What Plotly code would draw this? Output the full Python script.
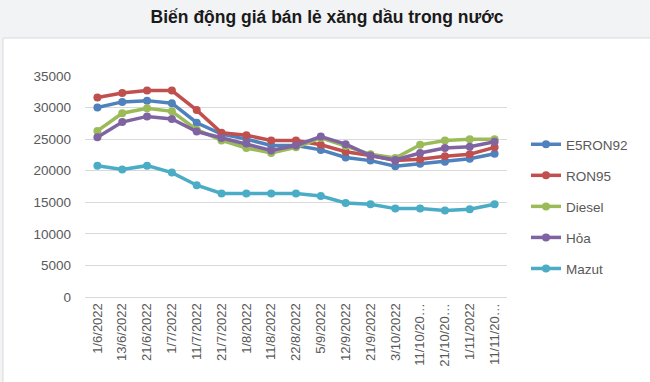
import plotly.graph_objects as go

categories = ["1/6/2022", "13/6/2022", "21/6/2022", "1/7/2022", "11/7/2022", "21/7/2022",
              "1/8/2022", "11/8/2022", "22/8/2022", "5/9/2022", "12/9/2022", "21/9/2022",
              "3/10/2022", "11/10/20…", "21/10/20…", "1/11/2022", "11/11/20…"]

e5ron92 = [30000, 30900, 31100, 30700, 27600, 25800, 25000, 24000, 24000, 23300, 22100, 21600, 20700, 21100, 21400, 21900, 22700]
ron95 = [31600, 32300, 32700, 32700, 29600, 26000, 25600, 24800, 24800, 24100, 23000, 22400, 21600, 21800, 22300, 22600, 23700]
diesel = [26300, 29100, 29900, 29400, 26500, 24800, 23600, 22800, 23700, 25200, 23900, 22600, 22000, 24100, 24800, 25000, 25000]
hoa = [25300, 27700, 28600, 28200, 26200, 25200, 24300, 23200, 24000, 25400, 24200, 22400, 21700, 22800, 23600, 23800, 24600]
mazut = [20800, 20200, 20800, 19700, 17700, 16400, 16400, 16400, 16400, 16000, 14900, 14700, 14000, 14000, 13700, 13900, 14700]

y_ticks = [0, 5000, 10000, 15000, 20000, 25000, 30000, 35000]
y_tick_labels = ["0", "5000", "10000", "15000", "20000", "25000", "30000", "35000"]

series_names = ["E5RON92", "RON95", "Diesel", "Hỏa", "Mazut"]
series_values = [e5ron92, ron95, diesel, hoa, mazut]
colors = ["#4f81bd", "#c0504d", "#9bbb59", "#8064a2", "#4bacc6"]

fig = go.Figure()
for name, vals, col in zip(series_names, series_values, colors):
    fig.add_trace(go.Scatter(
        x=list(range(len(categories))), y=vals, name=name, mode="lines+markers",
        line=dict(color=col, width=3.5), marker=dict(color=col, size=8),
        legendgroup=name,
    ))

W, H = 650, 382
L, R, T, B = 85, 143, 76, 85
pw, ph = W - L - R, H - T - B

def px_x(p):
    return (p - L) / pw

def px_y(p):
    return (H - B - p) / ph

fig.add_shape(type="rect", xref="paper", yref="paper",
              x0=px_x(3), x1=px_x(W + 2), y0=px_y(H + 2), y1=px_y(38),
              fillcolor="white", line=dict(color="#d9d9d9", width=1), layer="below")

fig.update_layout(
    width=W, height=H,
    margin=dict(l=L, r=R, t=T, b=B),
    paper_bgcolor="#f2f3f5",
    plot_bgcolor="rgba(0,0,0,0)",
    font=dict(family="Liberation Sans, Arial, sans-serif", color="#595959", size=13),
    title=dict(text="<b>Biến động giá bán lẻ xăng dầu trong nước</b>",
               x=327 / W, xref="container", xanchor="center",
               y=1 - 17 / H, yref="container", yanchor="middle",
               font=dict(size=17.5, color="#1a1a1a", family="Liberation Sans, Arial, sans-serif")),
    showlegend=True,
    legend=dict(x=px_x(526), xanchor="left", y=px_y(129), yanchor="top",
                bgcolor="rgba(0,0,0,0)", tracegroupgap=10.5,
                font=dict(size=13.5, color="#595959"), itemwidth=30),
)
fig.update_xaxes(
    range=[-0.5, len(categories) - 0.5],
    tickmode="array", tickvals=list(range(len(categories))), ticktext=categories,
    tickangle=-90, showgrid=False, zeroline=False,
    showline=True, linecolor="#d9d9d9", linewidth=1,
    ticks="", tickfont=dict(size=13, color="#595959"),
)
fig.update_yaxes(
    range=[0, 35000], tickmode="array", tickvals=y_ticks, ticktext=y_tick_labels,
    showgrid=True, gridcolor="#d9d9d9", gridwidth=1, zeroline=False,
    showline=False, ticks="", ticklabelstandoff=13,
    tickfont=dict(size=13.5, color="#595959"),
)

fig.write_html("out.html")
